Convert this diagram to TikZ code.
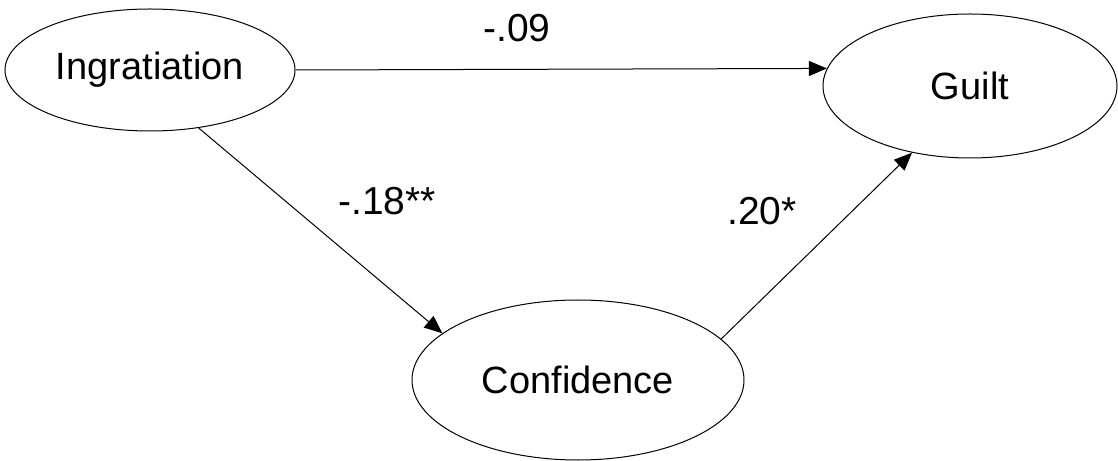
\documentclass[tikz,border=0pt]{standalone}
\usepackage{fontspec}
\setmainfont{Liberation Sans}
\usetikzlibrary{shapes.geometric,arrows.meta}

\begin{document}
\begin{tikzpicture}[x=0.5pt,y=0.5pt,
  latent/.style={draw,ellipse,line width=0.5pt,inner sep=0pt,font=\fontsize{19}{22}\selectfont},
  path/.style={line width=0.5pt,-{Triangle[length=9pt,width=7.5pt]}},
  coef/.style={anchor=base,font=\fontsize{19.5}{22}\selectfont}]
\path (0,0) rectangle (1118,460);
\node[latent,minimum width=145pt,minimum height=61pt] (ing) at (150,390) {Ingratiation};
\node[latent,minimum width=147pt,minimum height=72pt] (guilt) at (970,374) {Guilt};
\node[latent,minimum width=166pt,minimum height=80pt] (conf) at (578,80) {Confidence};
\draw[path] (ing.east) -- (guilt.173.6);
\draw[path] (ing.310) -- (conf.161);
\draw[path] (conf.16) -- (guilt.229);
\node[coef] (c1) at (517,418) {-.09};
\node[coef] (c2) at (387,245) {-.18**};
\node[coef] (c3) at (762,235) {.20*};
\end{tikzpicture}
\end{document}
